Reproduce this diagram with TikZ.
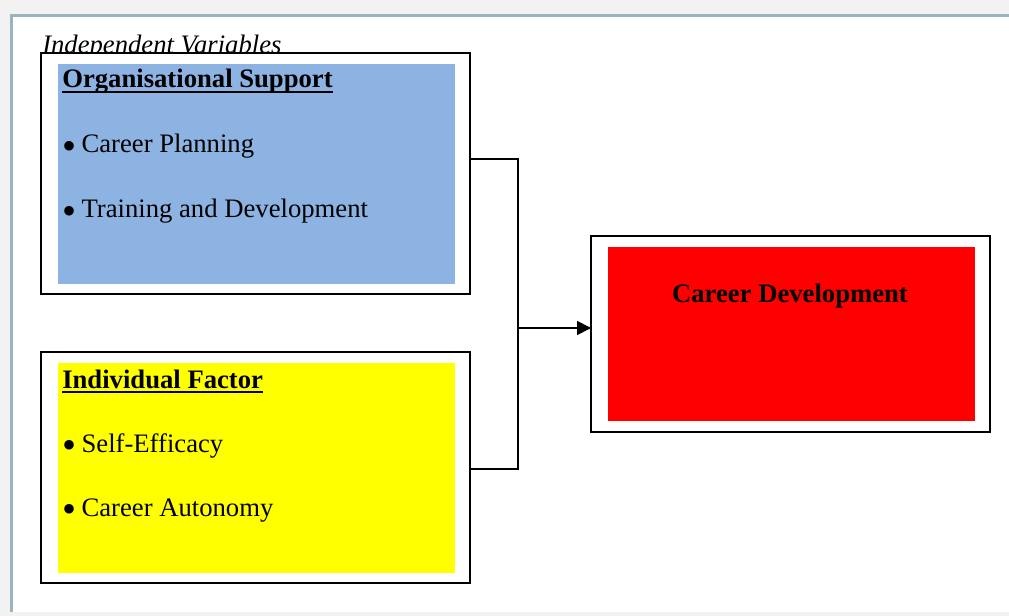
\documentclass[tikz,border=0pt]{standalone}
\usepackage{fontspec}
\setmainfont{Liberation Serif}
\usetikzlibrary{arrows.meta}
\definecolor{bgGray}{HTML}{F2F2F2}
\definecolor{frameLine}{HTML}{9DB2BF}
\definecolor{osBlue}{HTML}{8DB3E2}
\definecolor{ifYellow}{HTML}{FFFF00}
\definecolor{cdRed}{HTML}{FF0000}
\newcommand{\bigbul}{{\fontsize{30}{20}\selectfont\raisebox{-5.2pt}{\textbullet}}\hspace{4pt}}
\newsavebox{\ulbox}
\newcommand{\thickul}[1]{\sbox{\ulbox}{#1}\rlap{\rule[-3.6pt]{\wd\ulbox}{1.4pt}}\usebox{\ulbox}}
\tikzset{
  txt/.style={anchor=base west, inner sep=0pt, font=\fontsize{20}{24}\selectfont},
  ttl/.style={anchor=base west, inner sep=0pt, font=\fontsize{20}{24}\selectfont\bfseries},
  framebox/.style={draw=black, line width=1.3pt, fill=white},
  conn/.style={draw=black, line width=1.4pt},
}
\begin{document}
\begin{tikzpicture}[x=0.75pt,y=-0.75pt]
\useasboundingbox (0,0) rectangle (1009,616);
\fill[bgGray] (0,0) rectangle (1009,616);
\fill[white] (11,15) rectangle (1009,612);
\draw[frameLine, line width=2.4pt] (11.5,612) -- (11.5,15.5) -- (1009,15.5);

% heading
\node[anchor=base west, inner sep=0pt, font=\fontsize{20}{24}\selectfont\itshape] (iv) at (42,54) {Independent Variables};

% box 1
\draw[framebox] (41,53) rectangle (470,294);
\node[fill=osBlue, minimum width=397*0.75pt, minimum height=220*0.75pt, inner sep=0pt, anchor=north west] (os) at (58,64) {};
\coordinate (osE) at (470,159);
\node[ttl] (ost) at (62,88) {\thickul{Organisational Support}};
\node[txt] (os1) at (62,153) {\bigbul Career Planning};
\node[txt] (os2) at (62,218) {\bigbul Training and Development};

% box 2
\draw[framebox] (41,352) rectangle (470,583);
\node[fill=ifYellow, minimum width=397*0.75pt, minimum height=210*0.75pt, inner sep=0pt, anchor=north west] (if) at (58,363) {};
\coordinate (ifE) at (470,469);
\node[ttl] (ift) at (62,388) {\thickul{Individual Factor}};
\node[txt] (if1) at (62,452) {\bigbul Self-Efficacy};
\node[txt] (if2) at (62,516) {\bigbul Career Autonomy};

% box 3
\draw[framebox] (591,236) rectangle (990,432);
\node[fill=cdRed, minimum width=367*0.75pt, minimum height=174*0.75pt, inner sep=0pt, anchor=north west] (cd) at (608,247) {};
\coordinate (cdW) at (591,328);
\node[anchor=base, inner sep=0pt, font=\fontsize{20}{24}\selectfont\bfseries] (cdt) at (790,303) {Career Development};

% connectors
\coordinate (j1) at (518,159);
\coordinate (j2) at (518,469);
\coordinate (jm) at (518,328);
\draw[conn] (osE) -- (j1) -- (j2) -- (ifE);
\draw[conn, -{Triangle[length=10.5pt,width=10.5pt]}] (jm) -- (cdW);
\end{tikzpicture}
\end{document}
